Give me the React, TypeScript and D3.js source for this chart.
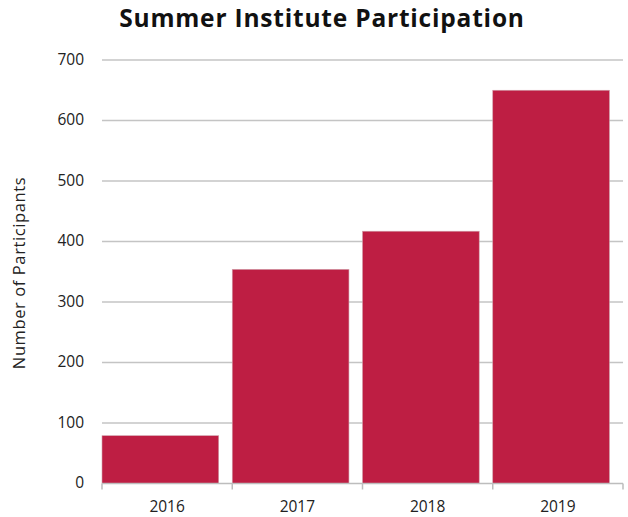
import React from 'react';
import * as d3 from 'd3';

const years = ['2016', '2017', '2018', '2019'];
const participants = [79, 354, 417, 650];
const yTicks = [0, 100, 200, 300, 400, 500, 600, 700];

const width = 628;
const height = 517;
const margin = { top: 60, right: 5, bottom: 33.5, left: 102 };
const barColor = '#be1e43';
const font = '"Open Sans", Lato, sans-serif';

const App: React.FC = () => {
  const x = d3.scaleBand<string>()
    .domain(years)
    .range([margin.left, width - margin.right])
    .padding(0);

  const y = d3.scaleLinear()
    .domain([0, 700])
    .range([height - margin.bottom, margin.top]);

  const barWidth = x.step() * 0.896;
  const bottom = y(0);

  return (
    <svg width={width} height={height} style={{ display: 'block', position: 'absolute', left: 0, top: 0 }}>
      <rect width={width} height={height} fill="#fff" />
      <text x={322} y={27} textAnchor="middle" fontFamily={font} fontWeight={700} fontSize={24.5} fill="#111" letterSpacing={0.8}>
        Summer Institute Participation
      </text>

      {/* grid */}
      {yTicks.filter(t => t > 0).map(t => (
        <line key={t} x1={margin.left} x2={width - margin.right} y1={y(t)} y2={y(t)} stroke="#c4c4c4" strokeWidth={1.5} />
      ))}
      {yTicks.map(t => (
        <text key={t} x={84} y={y(t)} dy="0.32em" textAnchor="end" fontFamily={font} fontSize={15.5} fill="#222">
          {t}
        </text>
      ))}

      {/* bars */}
      {years.map((yr, i) => (
        <rect
          key={yr}
          x={x(yr)!}
          y={y(participants[i])}
          width={barWidth}
          height={bottom - y(participants[i])}
          fill={barColor}
          stroke="#d0a0aa"
          strokeWidth={0.6}
        />
      ))}

      {/* x axis */}
      <line x1={margin.left} x2={width - margin.right} y1={bottom} y2={bottom} stroke="#bdbdbd" strokeWidth={1.5} />
      {[...years.map(yr => x(yr)!), width - margin.right].map((px, i) => (
        <line key={i} x1={px} x2={px} y1={bottom} y2={bottom + 6} stroke="#bdbdbd" strokeWidth={1.5} />
      ))}
      {years.map(yr => (
        <text key={yr} x={x(yr)! + x.bandwidth() / 2} y={bottom + 28.5} textAnchor="middle" fontFamily={font} fontSize={15.5} fill="#222">
          {yr}
        </text>
      ))}

      <text
        transform={`translate(25, 273) rotate(-90)`}
        textAnchor="middle"
        fontFamily={font}
        fontSize={16.5}
        letterSpacing={0.6}
        fill="#222"
      >
        Number of Participants
      </text>
    </svg>
  );
};

export default App;
